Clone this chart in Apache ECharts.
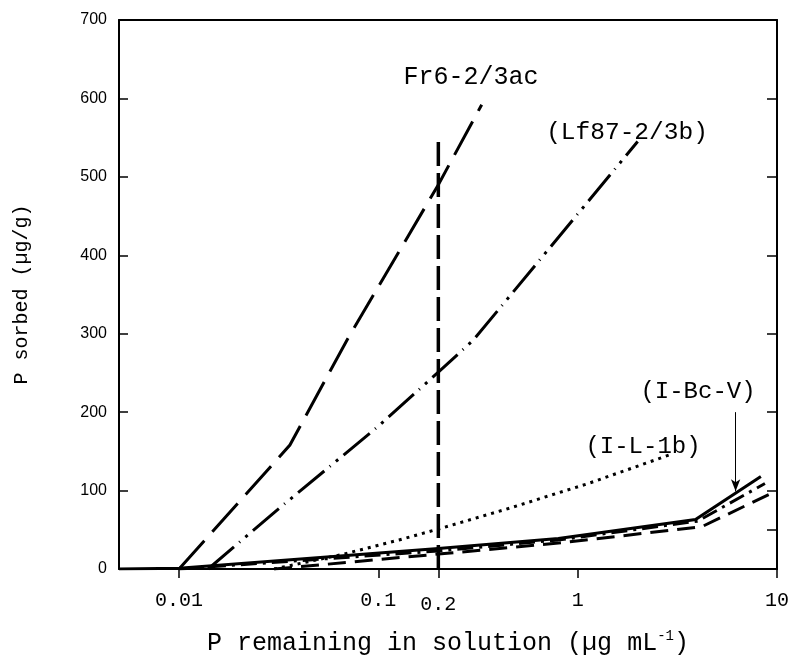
<!DOCTYPE html>
<html><head><meta charset="utf-8">
<script src="https://cdn.jsdelivr.net/npm/echarts@6/dist/echarts.min.js"></script>
<style>html,body{margin:0;padding:0;background:#fff}#c{width:793px;height:665px}</style>
</head><body><div id="c"></div>
<script>
// ---- data ----
const xTickValues = [0.01, 0.1, 0.2, 1, 10];
const rightTickValues = [50, 100, 200, 300, 400, 500, 600];

const fr6X = [0.01, 0.036, 0.07, 0.2, 0.33];
const fr6Y = [0, 158, 293, 490, 592];

const lf87X = [0.014, 0.03, 0.1, 0.2, 0.3, 2];
const lf87Y = [0, 72, 182, 251, 292, 545];

const il1bX = [0.03, 0.067, 0.127, 0.2, 0.435, 1.13, 3];
const il1bY = [0, 19, 37, 51, 76, 109, 147];

const ibcvX = [0.005, 0.01, 0.2, 0.8, 3.9, 8.3];
const ibcvY = [0, 1, 26, 39, 63, 118];

const midX = [0.01, 0.2, 0.8, 4, 8.7];
const midY = [0, 23, 37, 61, 109];

const lowX = [0.03, 0.2, 0.8, 4.2, 10];
const lowY = [0, 19, 33, 54, 100];

const refLineX = [0.2, 0.2];
const refLineY = [0, 550];

const arrowX = 6.2, arrowFromY = 200, arrowToY = 99;

const labels = [
  {text: 'Fr6-2/3ac', x: 471, y: 77, size: 25},
  {text: '(Lf87-2/3b)', x: 627, y: 133, size: 24.5},
  {text: '(I-Bc-V)', x: 698, y: 392, size: 24},
  {text: '(I-L-1b)', x: 643, y: 447, size: 24}
];

const zip = (xs, ys) => xs.map((x, i) => [x, ys[i]]);
const mono = '"Liberation Mono", "Courier New", monospace';

const chart = echarts.init(document.getElementById('c'), null, {renderer: 'canvas'});

function lineSeries(name, xs, ys, type, width) {
  return {
    name, type: 'line', data: zip(xs, ys), showSymbol: false, symbol: 'none',
    xAxisIndex: 0, yAxisIndex: 0, animation: false, silent: true,
    lineStyle: {color: '#000', width: width || 3, type: type, cap: 'butt', join: 'miter'}
  };
}

const series = [
  lineSeries('Fr6-2/3ac', fr6X, fr6Y, [38, 12], 3),
  lineSeries('Lf87-2/3b', lf87X, lf87Y, [34, 7, 1, 7, 3, 7], 3),
  lineSeries('I-L-1b', il1bX, il1bY, [3, 5], 3),
  Object.assign(lineSeries('I-Bc-V', ibcvX, ibcvY, 'solid', 3), {
    markLine: {
      silent: true, animation: false,
      symbol: ['none', 'arrow'], symbolSize: [7, 12],
      label: {show: false},
      lineStyle: {color: '#000', width: 1, type: 'solid'},
      data: [[{coord: [arrowX, arrowFromY]}, {coord: [arrowX, arrowToY]}]]
    }
  }),
  lineSeries('mid', midX, midY, [16, 6, 3, 6], 3),
  lineSeries('low', lowX, lowY, [18, 9], 3),
  lineSeries('ref', refLineX, refLineY, [24, 7], 3.5)
];

chart.setOption({
  animation: false,
  backgroundColor: '#fff',
  grid: {left: 119, right: 16, top: 20, bottom: 96, containLabel: false, outerBoundsMode: 'none'},
  xAxis: [{
    type: 'log', logBase: 10, min: 0.005, max: 10, position: 'bottom',
    axisLine: {show: true, onZero: false, lineStyle: {color: '#000', width: 2}},
    axisTick: {show: true, inside: false, length: 9, lineStyle: {color: '#000', width: 1.5}, customValues: xTickValues},
    axisLabel: {
      show: true, margin: 22, customValues: xTickValues,
      fontFamily: mono, fontSize: 20, color: '#000',
      formatter: v => Math.abs(v - 0.2) < 1e-9 ? '{low|0.2}' : '{n|' + v + '}',
      rich: {n: {fontFamily: mono, fontSize: 20, color: '#000'},
             low: {fontFamily: mono, fontSize: 20, color: '#000', padding: [4, 0, 0, 0]}}
    },
    minorTick: {show: false}, splitLine: {show: false},
    name: 'P remaining in solution (µg mL{sup|-1})',
    nameLocation: 'middle', nameGap: 60, nameMoveOverlap: false,
    nameTextStyle: {fontFamily: mono, fontSize: 25, color: '#000',
      rich: {sup: {fontFamily: mono, fontSize: 14, color: '#000', verticalAlign: 'top', padding: [0, 0, 14, 0]}}}
  }, {
    type: 'log', logBase: 10, min: 0.005, max: 10, position: 'top',
    axisLine: {show: true, onZero: false, lineStyle: {color: '#000', width: 2}},
    axisTick: {show: false}, axisLabel: {show: false}, splitLine: {show: false}
  }],
  yAxis: [{
    type: 'value', min: 0, max: 700, interval: 100, position: 'left',
    axisLine: {show: true, onZero: false, lineStyle: {color: '#000', width: 2}},
    axisTick: {show: true, inside: true, length: 9, lineStyle: {color: '#000', width: 1.5}},
    axisLabel: {fontFamily: '"Liberation Sans", Arial, sans-serif', fontSize: 16, color: '#000', margin: 12},
    splitLine: {show: false},
    name: 'P sorbed (µg/g)', nameLocation: 'middle', nameGap: 87, nameRotate: 90, nameMoveOverlap: false,
    nameTextStyle: {fontFamily: mono, fontSize: 20, color: '#000'}
  }, {
    type: 'value', min: 0, max: 700, interval: 100, position: 'right',
    axisLine: {show: true, onZero: false, lineStyle: {color: '#000', width: 2}},
    axisTick: {show: true, inside: true, length: 10, lineStyle: {color: '#000', width: 1.5}, customValues: rightTickValues},
    axisLabel: {show: false}, splitLine: {show: false}
  }],
  graphic: labels.map(l => ({
    type: 'text', x: l.x, y: l.y, silent: true,
    style: {text: l.text, fontFamily: mono, fontSize: l.size, fill: '#000', align: 'center', verticalAlign: 'middle'}
  })),
  series
});
</script></body></html>
